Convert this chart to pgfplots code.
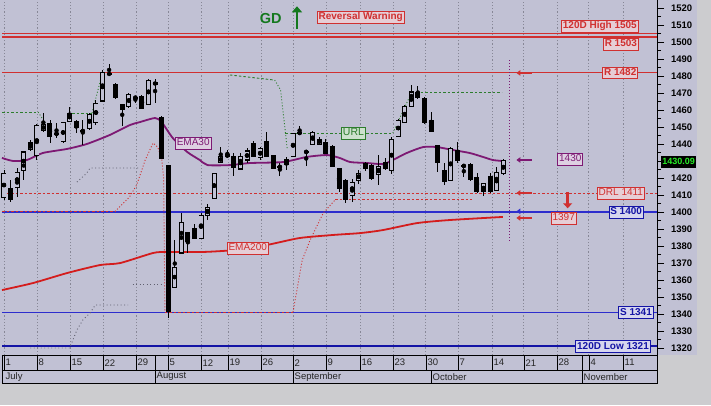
\documentclass[border=0pt]{standalone}
\usepackage{pgfplots}
\pgfplotsset{compat=1.18}
\usepackage{pgfplotstable}
\usepackage{fontspec}
\setmainfont{Liberation Sans}
\usetikzlibrary{arrows.meta}

\definecolor{plotbg}{RGB}{193,193,212}
\definecolor{outbg}{RGB}{204,204,207}
\definecolor{gridc}{RGB}{135,135,150}
\definecolor{rline}{RGB}{208,48,48}
\definecolor{bline}{RGB}{45,45,205}
\definecolor{bdark}{RGB}{20,20,165}
\definecolor{emaP}{RGB}{125,25,115}
\definecolor{emaR}{RGB}{212,28,28}
\definecolor{gline}{RGB}{45,125,45}
\definecolor{gdgreen}{RGB}{20,120,30}
\definecolor{dotgray}{RGB}{95,95,110}
\definecolor{rbox}{RGB}{230,206,214}
\definecolor{bbox}{RGB}{214,214,238}
\definecolor{pbox}{RGB}{222,208,226}
\definecolor{gbox}{RGB}{205,226,205}
\definecolor{lastgreen}{RGB}{40,235,40}

% white (up) candles: x open high low close
\pgfplotstableread{
x o h l c
0 1408.8 1424.7 1407.1 1422.9
2 1414.7 1425.9 1408.8 1423.5
3 1424.7 1435.9 1418.8 1435.3
4 1436.5 1442.4 1435.9 1440.6
5 1433.5 1451.8 1430.6 1450.6
6 1448.2 1458.2 1447.1 1451.2
8 1445.9 1452.4 1443.5 1446.2
9 1441.2 1452.9 1440.6 1452.4
10 1453.5 1461.8 1452.9 1458.2
12 1447.4 1454.1 1439.4 1447.9
13 1449.4 1458.2 1448.2 1457.6
14 1452.9 1465.9 1451.2 1464.1
15 1465.3 1483.5 1465.3 1481.8
18 1460.6 1463.8 1450.6 1463.5
19 1461.8 1470.0 1461.2 1469.4
20 1467.1 1468.2 1464.1 1467.4
22 1463.5 1478.2 1463.5 1477.6
26 1355.9 1383.5 1355.9 1367.6
27 1375.9 1399.4 1375.9 1394.1
30 1384.7 1399.4 1384.7 1398.2
31 1398.2 1404.7 1395.3 1402.9
32 1408.2 1423.2 1407.9 1422.9
33 1429.4 1438.2 1429.4 1432.4
34 1432.4 1436.5 1431.8 1434.1
36 1425.3 1434.7 1425.3 1432.4
37 1430.6 1437.6 1428.8 1435.9
39 1431.8 1438.2 1430.6 1437.6
42 1426.3 1428.8 1421.2 1426.7
43 1428.2 1432.4 1424.7 1430.6
44 1432.4 1446.5 1432.4 1445.9
45 1446.3 1450.6 1445.3 1446.7
46 1435.2 1435.9 1427.1 1435.5
47 1440.0 1447.6 1440.0 1446.5
48 1440.0 1444.1 1439.4 1442.9
53 1410.0 1419.4 1405.9 1417.6
54 1418.8 1424.7 1416.5 1422.9
55 1425.9 1429.4 1424.1 1428.8
57 1421.8 1433.5 1415.9 1426.5
59 1424.7 1444.1 1422.4 1442.4
60 1444.7 1454.7 1444.1 1454.1
61 1452.9 1462.9 1452.4 1461.8
62 1461.8 1474.7 1461.8 1470.6
68 1418.8 1438.2 1418.8 1437.6
70 1427.0 1427.4 1420.6 1427.2
73 1411.8 1417.1 1409.4 1416.5
75 1412.9 1426.5 1412.4 1423.5
76 1422.4 1431.2 1421.8 1430.09
}\whitec

% black (down) candles
\pgfplotstableread{
x o h l c
1 1414.1 1418.8 1405.9 1407.1
7 1452.4 1454.1 1440.6 1444.1
11 1453.5 1454.1 1446.5 1449.4
16 1481.8 1487.1 1480.0 1480.6
17 1475.3 1475.9 1466.5 1467.1
21 1468.2 1468.8 1460.6 1460.6
23 1476.5 1478.2 1464.1 1474.7
24 1455.9 1456.2 1430.9 1431.2
25 1427.6 1427.6 1337.6 1341.2
28 1388.2 1388.5 1375.9 1382.4
29 1390.6 1393.0 1384.1 1384.1
35 1432.9 1434.7 1421.2 1425.9
38 1440.6 1441.8 1432.4 1432.4
40 1441.8 1447.1 1432.4 1432.4
41 1433.5 1433.8 1425.3 1425.3
49 1441.2 1442.9 1434.1 1434.1
50 1438.8 1439.4 1426.5 1426.5
51 1425.9 1425.9 1411.8 1413.5
52 1418.8 1419.4 1405.3 1407.1
56 1427.6 1428.2 1418.8 1419.4
58 1429.4 1431.8 1424.7 1425.3
63 1470.6 1474.1 1466.5 1467.1
64 1467.1 1467.4 1451.8 1452.4
65 1454.1 1458.8 1447.1 1447.1
66 1439.4 1439.7 1423.5 1428.8
67 1424.7 1428.8 1415.9 1417.6
69 1436.5 1441.2 1428.8 1430.0
71 1428.2 1428.8 1418.2 1418.8
72 1420.6 1422.9 1411.2 1411.8
74 1421.2 1422.9 1411.2 1411.8
}\blackc

\tikzset{
  lbl/.style={draw, inner sep=1.4pt, text height=7.2pt, text depth=1.8pt, line width=0.7pt,
    font=\fontsize{10}{11}\selectfont},
  rlb/.style={lbl, draw=rline, fill=rbox, text=rline},
  blb/.style={lbl, draw=bdark, fill=bbox, text=bdark},
  bf/.style={font=\bfseries\fontsize{10}{11}\selectfont},
}

\begin{document}
\begin{tikzpicture}
\useasboundingbox (0pt,0pt) rectangle (711pt,405pt);
\fill[outbg] (0pt,0pt) rectangle (711pt,405pt);
\fill[plotbg] (0pt,50pt) rectangle (697pt,405pt);
\fill[plotbg] (0pt,22pt) rectangle (657pt,50pt);
\begin{axis}[
  at={(2pt,50pt)}, anchor=south west, scale only axis,
  width=655pt, height=355pt,
  xmin=-0.3, xmax=99.4, ymin=1315.9, ymax=1524.7,
  clip=false,
  axis x line*=bottom, axis y line*=right,
  axis line style={black, line width=0.8pt},
  xtick={0,5.02,10.05,15.07,20.09,24.96,29.98,34.09,39.12,43.99,49.0,54.2,59.2,64.2,69.1,74.3,79.1,84.2,89.0,94.2},
  xticklabels={},
  x tick style={draw=none},
  xmajorgrids,
  grid style={dash pattern=on 1.2pt off 2pt, color=gridc, line width=0.6pt},
  ytick={1320,1330,...,1520},
  yticklabels={1320,1330,1340,1350,1360,1370,1380,1390,1400,1410,1420,{},1440,1450,1460,1470,1480,1490,1500,1510,1520},
  minor ytick={1325,1335,...,1515},
  y tick style={black, line width=0.8pt},
  tick align=outside,
  major tick length=7pt, minor tick length=4pt,
  yticklabel style={font=\bfseries\fontsize{9.5}{10}\selectfont, xshift=3.5pt},
  /pgf/number format/assume math mode=true,
  /pgf/number format/1000 sep={},
]
% ---- level lines
\addplot[rline, line width=1.6pt] coordinates {(-0.3,1505) (99.4,1505)};
\addplot[rline, line width=1.3pt] coordinates {(-0.3,1503) (99.4,1503)};
\addplot[rline, line width=1.2pt] coordinates {(-0.3,1482) (99.4,1482)};
\addplot[rline, line width=0.9pt, dash pattern=on 2.5pt off 2pt] coordinates {(-0.3,1411) (99.4,1411)};
\addplot[bline, line width=1.1pt] coordinates {(-0.3,1400) (99.4,1400)};
\addplot[bline, line width=1.1pt] coordinates {(-0.3,1341) (99.4,1341)};
\addplot[bdark, line width=1.8pt] coordinates {(-0.3,1321) (99.4,1321)};

% ---- gray dotted trailing lines
\addplot[dotgray, line width=0.9pt, dash pattern=on 0.9pt off 2.6pt] coordinates {(4,1320) (10,1320) (11.1,1330.6) (12,1336.5) (13.1,1340.6) (13.9,1345.3) (18.9,1345.3)};
\addplot[dotgray, line width=0.9pt, dash pattern=on 0.9pt off 2.6pt] coordinates {(19.6,1357.6) (24.2,1357.6)};
\addplot[dotgray, line width=0.9pt, dash pattern=on 0.9pt off 2.6pt] coordinates {(11.1,1417.6) (12.6,1422.9) (13.1,1425.9) (20.7,1425.9)};

% ---- red trailing line
\addplot[rline, line width=0.9pt, dash pattern=on 2.5pt off 2pt] coordinates {(-0.3,1400.3) (16.9,1400.3)};
\addplot[rline, line width=0.9pt, dash pattern=on 1pt off 2pt] coordinates {(16.9,1400.3) (19.1,1408.8) (20.2,1415.9) (21.5,1430.6) (22.7,1440.6) (23.4,1438.2) (24.0,1431.8) (24.3,1420) (24.5,1341.2)};
\addplot[rline, line width=0.9pt, dash pattern=on 2.5pt off 2pt] coordinates {(24.5,1341.2) (44,1341.2)};
\addplot[rline, line width=0.9pt, dash pattern=on 1pt off 2pt] coordinates {(44,1341.2) (45.4,1371.8) (46.6,1383.5) (48.6,1399.4) (50.4,1407.1)};
\addplot[rline, line width=0.9pt, dash pattern=on 2.5pt off 2pt] coordinates {(50.4,1407.1) (71.2,1407.1)};

% ---- green URL line
\addplot[gline, line width=0.9pt, dash pattern=on 2.5pt off 2pt] coordinates {(-0.3,1458.8) (5.2,1458.8)};
\addplot[gline, line width=0.9pt, dash pattern=on 1pt off 2pt] coordinates {(5.2,1458.8) (6.2,1452.9)};
\addplot[gline, line width=0.9pt, dash pattern=on 2.5pt off 2pt] coordinates {(9.7,1458.2) (13.4,1458.2)};
\addplot[gline, line width=0.9pt, dash pattern=on 1pt off 2pt] coordinates {(13.4,1458.2) (14.9,1480.6)};
\addplot[gline, line width=0.9pt, dash pattern=on 2.5pt off 2pt] coordinates {(34.4,1480.6) (41.2,1477.6)};
\addplot[gline, line width=0.9pt, dash pattern=on 1pt off 2pt] coordinates {(41.2,1477.6) (42.1,1471.8) (42.8,1448.2) (43.1,1437.6)};
\addplot[gline, line width=0.9pt, dash pattern=on 2.5pt off 2pt] coordinates {(42.8,1446.5) (59.2,1446.5)};
\addplot[gline, line width=0.9pt, dash pattern=on 1pt off 2pt] coordinates {(59.2,1446.5) (61.3,1464.1) (62.1,1470.6)};
\addplot[gline, line width=0.9pt, dash pattern=on 2.5pt off 2pt] coordinates {(62.1,1470.6) (75.8,1470.6)};

% ---- EMA200
\addplot[emaR, line width=1.8pt, smooth, tension=0.4] coordinates {
(-0.3,1354.1) (4.4,1358.2) (9.6,1364.1) (14.6,1368.8) (17.7,1370) (22.7,1375.9) (24.8,1376.5)
(30.3,1376.5) (34.9,1377.6) (40,1380.6) (45,1384.7) (50.1,1386.5) (54.2,1387.6) (57.7,1389.4)
(62.9,1393.5) (67.9,1395.3) (75.95,1397.1)};

% ---- EMA30
\addplot[emaP, line width=1.8pt, smooth, tension=0.4] coordinates {
(-0.3,1431.8) (1.4,1430) (3.5,1430.6) (5.9,1434.7) (9.6,1437.1) (12.6,1440) (16.1,1445.3)
(19.2,1451.2) (20.7,1452.9) (23,1455.3) (24,1452.9) (25.7,1443.5) (27.9,1435.3) (29.8,1430.6)
(31,1427.6) (34.4,1427.6) (37.4,1428.8) (42.5,1429.4) (46.1,1432.4) (49.2,1433.5) (51.1,1431.8)
(52.7,1429.4) (55.3,1428.8) (57.7,1428.2) (59.2,1430.6) (61.3,1434.7) (63.8,1438.2) (65.9,1438.2)
(68.3,1436.5) (70.9,1434.7) (72.9,1432.4) (74.4,1430.6) (75.9,1430)};

% ---- candles: wicks
\addplot[only marks, mark=none, error bars/.cd, y dir=both, y explicit, error mark=none,
  error bar style={line width=0.9pt, draw=black}]
  table[x=x, y expr={(\thisrow{h}+\thisrow{l})/2}, y error expr={(\thisrow{h}-\thisrow{l})/2}] {\whitec};
\addplot[only marks, mark=none, error bars/.cd, y dir=both, y explicit, error mark=none,
  error bar style={line width=0.9pt, draw=black}]
  table[x=x, y expr={(\thisrow{h}+\thisrow{l})/2}, y error expr={(\thisrow{h}-\thisrow{l})/2}] {\blackc};
% white bodies
\addplot[only marks, mark=none, error bars/.cd, y dir=both, y explicit, error mark=none,
  error bar style={line width=5pt, draw=black}]
  table[x=x, y expr={(\thisrow{o}+\thisrow{c})/2}, y error expr={(\thisrow{c}-\thisrow{o})/2+0.3}] {\whitec};
\addplot[only marks, mark=none, error bars/.cd, y dir=both, y explicit, error mark=none,
  error bar style={line width=3.4pt, draw=plotbg}]
  table[x=x, y expr={(\thisrow{o}+\thisrow{c})/2}, y error expr={max((\thisrow{c}-\thisrow{o})/2-0.3,0)}] {\whitec};
% black bodies
\addplot[only marks, mark=none, error bars/.cd, y dir=both, y explicit, error mark=none,
  error bar style={line width=5pt, draw=black}]
  table[x=x, y expr={(\thisrow{o}+\thisrow{c})/2}, y error expr={max((\thisrow{o}-\thisrow{c})/2,0.3)}] {\blackc};

% ---- projection marker line and arrows
\addplot[emaP, line width=0.9pt, dash pattern=on 1pt off 2pt] coordinates {(77.0,1489.4) (77.0,1383.5)};
\addplot[rline, line width=1.4pt, -{Triangle[length=4pt,width=5.5pt]}] coordinates {(80.3,1481.8) (78.0,1481.8)};
\addplot[emaP, line width=1.4pt, -{Triangle[length=4pt,width=5.5pt]}] coordinates {(80.3,1430.6) (78.0,1430.6)};
\addplot[rline, line width=1.4pt, -{Triangle[length=4pt,width=5.5pt]}] coordinates {(80.3,1411.2) (78.0,1411.2)};
\addplot[bline, line width=1.4pt, -{Triangle[length=4pt,width=5.5pt]}] coordinates {(80.3,1400.4) (78.0,1400.4)};
\addplot[rline, line width=1.4pt, -{Triangle[length=4pt,width=5.5pt]}] coordinates {(80.3,1396.5) (78.0,1396.5)};
\addplot[rline, line width=2.6pt, -{Triangle[length=5pt,width=9pt]}] coordinates {(85.8,1411.8) (85.8,1402.2)};
\addplot[gdgreen, line width=2.8pt, -{Triangle[length=6pt,width=10pt]}] coordinates {(44.6,1507.6) (44.6,1521.0)};

% ---- labels
\node[font=\bfseries\fontsize{14.5}{15}\selectfont, text=gdgreen] at (axis cs:40.6,1514.1) {GD};
\node[rlb, bf] at (axis cs:54.3,1514.7) {Reversal Warning};
\node[rlb, bf] at (axis cs:90.7,1509.4) {120D High 1505};
\node[rlb, bf] at (axis cs:93.9,1498.8) {R 1503};
\node[rlb, bf] at (axis cs:93.8,1481.8) {R 1482};
\node[lbl, draw=emaP, fill=pbox, text=emaP] at (axis cs:86.2,1431.2) {1430};
\node[rlb] at (axis cs:93.9,1411.2) {DRL 1411};
\node[blb, bf] at (axis cs:94.7,1400) {S 1400};
\node[rlb] at (axis cs:85.2,1396.5) {1397};
\node[blb, bf] at (axis cs:96.2,1341) {S 1341};
\node[blb, bf] at (axis cs:92.7,1321) {120D Low 1321};
\node[lbl, draw=emaP, fill=pbox, text=emaP] at (axis cs:28.8,1440.6) {EMA30};
\node[rlb] at (axis cs:37.1,1378.8) {EMA200};
\node[lbl, draw=gline, fill=gbox, text=gline, font=\fontsize{10.5}{11}\selectfont] at (axis cs:53.2,1446.5) {URL};
\node[fill=black, text=lastgreen, inner sep=1.5pt, text height=7pt, text depth=2pt,
  font=\bfseries\fontsize{9}{10}\selectfont] at (axis cs:102.7,1429.4) {1430.09};
\end{axis}

% ---- date rows
\draw[black, line width=0.8pt] (2pt,22pt) rectangle (657pt,50pt);
\draw[black, line width=0.8pt] (2pt,35pt) -- (657pt,35pt);
\foreach \s in {4,37,70,103,136,155,168,201,228,261,293,326,360,393,426,458,492,524,557,582,589,623}
  \draw[black, line width=0.8pt] (\s pt,35pt) -- (\s pt,50pt);
\foreach \s in {155,293,431,582}
  \draw[black, line width=0.8pt] (\s pt,22pt) -- (\s pt,35pt);
\foreach \s/\t in {4/1,37/8,70/15,103/22,136/29,168/5,201/12,228/19,261/26,293/2,326/9,360/16,393/23,426/30,458/7,492/14,524/21,557/28,589/4,623/11}
  \node[anchor=west, inner sep=1pt, font=\fontsize{9.5}{10}\selectfont, text=black!85] at (\s pt+0.5pt,42.3pt) {\t};
\foreach \s/\t in {4/July,155/August,293/September,431/October,582/November}
  \node[anchor=west, inner sep=1pt, font=\fontsize{9.5}{10}\selectfont, text=black!85] at (\s pt+0.5pt,28.3pt) {\t};
\end{tikzpicture}
\end{document}
